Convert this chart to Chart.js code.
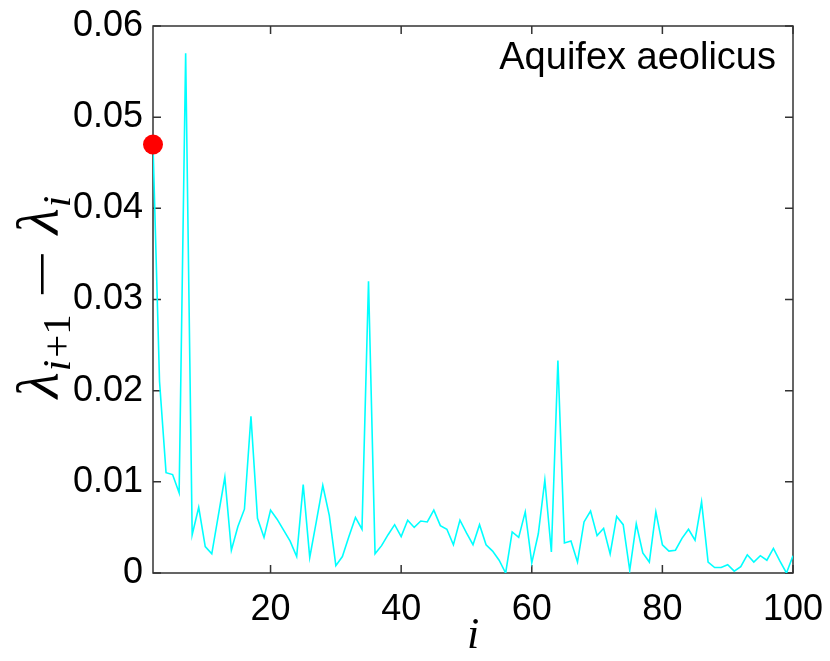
<!DOCTYPE html>
<html>
<head>
<meta charset="utf-8">
<script src="https://cdn.jsdelivr.net/npm/chart.js@4/dist/chart.umd.min.js"></script>
<style>
  html, body { margin: 0; padding: 0; background: #ffffff; }
  #wrap { width: 830px; height: 661px; position: relative; }
</style>
</head>
<body>
<div id="wrap"><canvas id="c" width="830" height="661"></canvas></div>
<script>
// Eigenvalue index i
const eigIndex = [
  2, 3, 4, 5, 6, 7, 8, 9, 10, 11, 12, 13, 14, 15, 16, 17, 18, 19, 20,
  21, 22, 23, 24, 25, 26, 27, 28, 29, 30, 31, 32, 33, 34, 35, 36, 37, 38, 39, 40,
  41, 42, 43, 44, 45, 46, 47, 48, 49, 50, 51, 52, 53, 54, 55, 56, 57, 58, 59, 60,
  61, 62, 63, 64, 65, 66, 67, 68, 69, 70, 71, 72, 73, 74, 75, 76, 77, 78, 79, 80,
  81, 82, 83, 84, 85, 86, 87, 88, 89, 90, 91, 92, 93, 94, 95, 96, 97, 98, 99, 100
];

// Gap between consecutive eigenvalues, lambda_{i+1} - lambda_i
const eigGap = [
  0.0470, 0.0210, 0.0110, 0.0108, 0.0088, 0.0570, 0.0042, 0.0072, 0.0029, 0.0021,
  0.0063, 0.0105, 0.0025, 0.0051, 0.0070, 0.0172, 0.0060, 0.0039, 0.0069,
  0.0059, 0.0047, 0.0035, 0.0018, 0.0097, 0.0017, 0.0056, 0.0096, 0.0063, 0.0008,
  0.0018, 0.0040, 0.0061, 0.0048, 0.0320, 0.0021, 0.0030, 0.0042, 0.0053, 0.0040,
  0.0058, 0.0050, 0.0057, 0.0056, 0.0069, 0.0052, 0.0048, 0.0031, 0.0058, 0.0044,
  0.0031, 0.0053, 0.0031, 0.0024, 0.0014, 0.0000, 0.0045, 0.0039, 0.0067, 0.0011,
  0.0043, 0.0102, 0.0023, 0.0233, 0.0033, 0.0035, 0.0012, 0.0056, 0.0068, 0.0041,
  0.0049, 0.0021, 0.0062, 0.0053, 0.0003, 0.0054, 0.0022, 0.0012, 0.0067, 0.0031,
  0.0024, 0.0025, 0.0038, 0.0048, 0.0036, 0.0078, 0.0012, 0.0006, 0.0006, 0.0009,
  0.0002, 0.0007, 0.0020, 0.0012, 0.0019, 0.0014, 0.0027, 0.0013, 0.0000, 0.0019
];

// Highlighted first gap
const markedIndex = [eigIndex[0]];
const markedGap = [eigGap[0]];

// Axis ticks
const xTicks = [20, 40, 60, 80, 100];
const yTicks = [0, 0.01, 0.02, 0.03, 0.04, 0.05, 0.06];
const yTickLabels = ['0', '0.01', '0.02', '0.03', '0.04', '0.05', '0.06'];

const speciesName = 'Aquifex aeolicus';

const sansFont = '"Liberation Sans", Arial, Helvetica, sans-serif';
const serifFont = '"Liberation Serif", "DejaVu Serif", serif';

const linePoints = eigIndex.map((v, k) => ({ x: v, y: eigGap[k] }));
const markPoints = markedIndex.map((v, k) => ({ x: v, y: markedGap[k] }));

// Keep the plot box fixed: drop the extra room Chart.js reserves for edge labels
function noEdgePadding(s) {
  s.paddingTop = 0; s.paddingBottom = 0; s.paddingLeft = 0; s.paddingRight = 0;
}

// Boxed axes with inward ticks on all four sides, plus text labels
const frame = {
  id: 'frame',
  beforeDatasetsDraw(chart) {
    const { ctx, chartArea: a, scales } = chart;
    ctx.save();
    ctx.strokeStyle = '#333333';
    ctx.lineWidth = 1.5;
    ctx.strokeRect(a.left, a.top, a.right - a.left, a.bottom - a.top);
    const tl = 8;
    ctx.beginPath();
    xTicks.forEach(v => {
      const px = scales.x.getPixelForValue(v);
      ctx.moveTo(px, a.bottom); ctx.lineTo(px, a.bottom - tl);
      ctx.moveTo(px, a.top); ctx.lineTo(px, a.top + tl);
    });
    yTicks.forEach(v => {
      const py = scales.y.getPixelForValue(v);
      ctx.moveTo(a.left, py); ctx.lineTo(a.left + tl, py);
      ctx.moveTo(a.right, py); ctx.lineTo(a.right - tl, py);
    });
    ctx.stroke();
    ctx.restore();
  },
  afterDraw(chart) {
    const { ctx, chartArea: a } = chart;
    ctx.save();
    ctx.fillStyle = '#000000';

    // species name, top right inside the box
    ctx.font = '38px ' + sansFont;
    ctx.textAlign = 'right';
    ctx.textBaseline = 'alphabetic';
    ctx.fillText(speciesName, a.right - 17, 69);

    // x-axis title: italic i
    ctx.font = 'italic 44px ' + serifFont;
    ctx.textAlign = 'center';
    ctx.fillText('i', (a.left + a.right) / 2, 648);

    // y-axis title: lambda_{i+1} - lambda_i, rotated, with a drawn minus bar
    const big = 'italic 60px ' + serifFont;
    const sub = 'italic 41px ' + serifFont;
    const subUp = '41px ' + serifFont;
    const parts = [
      { t: '\u03bb', f: big, dy: 0, gap: 1 },
      { t: 'i', f: sub, dy: 12, gap: 2 },
      { t: '+1', f: subUp, dy: 12, gap: 20 },
      { bar: 40, gap: 20 },
      { t: '\u03bb', f: big, dy: 0, gap: 1 },
      { t: 'i', f: sub, dy: 12, gap: 0 }
    ];
    let total = 0;
    parts.forEach(p => {
      if (p.bar) { p.w = p.bar; } else { ctx.font = p.f; p.w = ctx.measureText(p.t).width; }
      total += p.w + p.gap;
    });
    ctx.translate(58, 297);
    ctx.rotate(-Math.PI / 2);
    ctx.textAlign = 'left';
    let cx = -total / 2;
    parts.forEach(p => {
      if (p.bar) {
        ctx.fillRect(cx, -17, p.w, 2.6);
      } else {
        ctx.font = p.f;
        ctx.fillText(p.t, cx, p.dy);
      }
      cx += p.w + p.gap;
    });
    ctx.restore();
  }
};

new Chart(document.getElementById('c'), {
  type: 'line',
  data: {
    datasets: [
      {
        label: 'first gap',
        data: markPoints,
        showLine: false,
        pointRadius: 10,
        pointBackgroundColor: '#ff0000',
        pointBorderColor: '#ff0000',
        pointBorderWidth: 0,
        clip: false,
        order: 0
      },
      {
        label: 'gap',
        data: linePoints,
        borderColor: '#00ffff',
        borderWidth: 1.6,
        pointRadius: 0,
        tension: 0,
        fill: false,
        order: 1
      }
    ]
  },
  options: {
    responsive: false,
    animation: false,
    events: [],
    layout: { padding: { top: 26, right: 37, left: 0, bottom: 0 } },
    plugins: { legend: { display: false }, tooltip: { enabled: false } },
    scales: {
      x: {
        type: 'linear',
        min: 2,
        max: 100,
        afterBuildTicks: s => { s.ticks = xTicks.map(v => ({ value: v })); },
        afterFit: s => { s.height = 88; noEdgePadding(s); },
        grid: { display: false, drawTicks: false },
        border: { display: false },
        ticks: {
          autoSkip: false,
          maxRotation: 0,
          padding: 15,
          color: '#000000',
          font: { family: sansFont, size: 36 },
          callback: v => String(v)
        }
      },
      y: {
        type: 'linear',
        min: 0,
        max: 0.06,
        afterBuildTicks: s => { s.ticks = yTicks.map(v => ({ value: v })); },
        afterFit: s => { s.width = 153; noEdgePadding(s); },
        grid: { display: false, drawTicks: false },
        border: { display: false },
        ticks: {
          autoSkip: false,
          padding: 10,
          color: '#000000',
          font: { family: sansFont, size: 36 },
          callback: (v, idx) => yTickLabels[idx]
        }
      }
    }
  },
  plugins: [frame]
});
</script>
</body>
</html>
